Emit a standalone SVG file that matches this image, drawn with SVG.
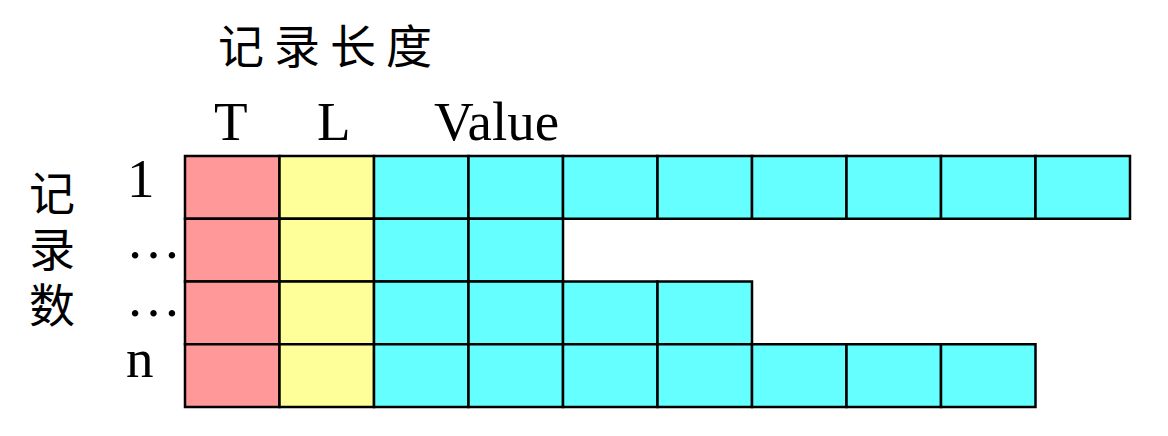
<svg xmlns="http://www.w3.org/2000/svg" width="1168" height="436" viewBox="0 0 1168 436">
<style>
.c{stroke:#000;stroke-width:2.5}
.t{fill:#FF9999}.l{fill:#FFFF99}.v{fill:#66FFFF}
.zh{font-family:"Noto Sans CJK SC",sans-serif;font-size:46px;fill:#000}
.en{font-family:"Liberation Serif",serif;font-size:55px;fill:#000}
</style>
<rect width="1168" height="436" fill="#fff"/>
<g id="title"><text class="zh" x="218" y="63" letter-spacing="10">记录长度</text></g>
<g id="headers">
<text class="en" x="214" y="140">T</text>
<text class="en" x="317" y="140">L</text>
<text class="en" x="434" y="140">Value</text>
</g>
<g id="side-label">
<text class="zh" x="52" y="170" writing-mode="vertical-rl" letter-spacing="10">记录数</text>
</g>
<g id="row-labels">
<text class="en" x="127" y="197">1</text>
<text class="en" x="126" y="258">…</text>
<text class="en" x="126" y="316">…</text>
<text class="en" x="126" y="377">n</text>
</g>
<g id="row1">
<rect class="c t" x="185" y="156" width="94.5" height="62.75"/>
<rect class="c l" x="279.5" y="156" width="94.5" height="62.75"/>
<rect class="c v" x="374" y="156" width="94.5" height="62.75"/>
<rect class="c v" x="468.5" y="156" width="94.5" height="62.75"/>
<rect class="c v" x="563" y="156" width="94.5" height="62.75"/>
<rect class="c v" x="657.5" y="156" width="94.5" height="62.75"/>
<rect class="c v" x="752" y="156" width="94.5" height="62.75"/>
<rect class="c v" x="846.5" y="156" width="94.5" height="62.75"/>
<rect class="c v" x="941" y="156" width="94.5" height="62.75"/>
<rect class="c v" x="1035.5" y="156" width="94.5" height="62.75"/>
</g>
<g id="row2">
<rect class="c t" x="185" y="218.75" width="94.5" height="62.75"/>
<rect class="c l" x="279.5" y="218.75" width="94.5" height="62.75"/>
<rect class="c v" x="374" y="218.75" width="94.5" height="62.75"/>
<rect class="c v" x="468.5" y="218.75" width="94.5" height="62.75"/>
</g>
<g id="row3">
<rect class="c t" x="185" y="281.5" width="94.5" height="62.75"/>
<rect class="c l" x="279.5" y="281.5" width="94.5" height="62.75"/>
<rect class="c v" x="374" y="281.5" width="94.5" height="62.75"/>
<rect class="c v" x="468.5" y="281.5" width="94.5" height="62.75"/>
<rect class="c v" x="563" y="281.5" width="94.5" height="62.75"/>
<rect class="c v" x="657.5" y="281.5" width="94.5" height="62.75"/>
</g>
<g id="row4">
<rect class="c t" x="185" y="344.25" width="94.5" height="62.75"/>
<rect class="c l" x="279.5" y="344.25" width="94.5" height="62.75"/>
<rect class="c v" x="374" y="344.25" width="94.5" height="62.75"/>
<rect class="c v" x="468.5" y="344.25" width="94.5" height="62.75"/>
<rect class="c v" x="563" y="344.25" width="94.5" height="62.75"/>
<rect class="c v" x="657.5" y="344.25" width="94.5" height="62.75"/>
<rect class="c v" x="752" y="344.25" width="94.5" height="62.75"/>
<rect class="c v" x="846.5" y="344.25" width="94.5" height="62.75"/>
<rect class="c v" x="941" y="344.25" width="94.5" height="62.75"/>
</g>
<g id="connectors"></g>
</svg>
